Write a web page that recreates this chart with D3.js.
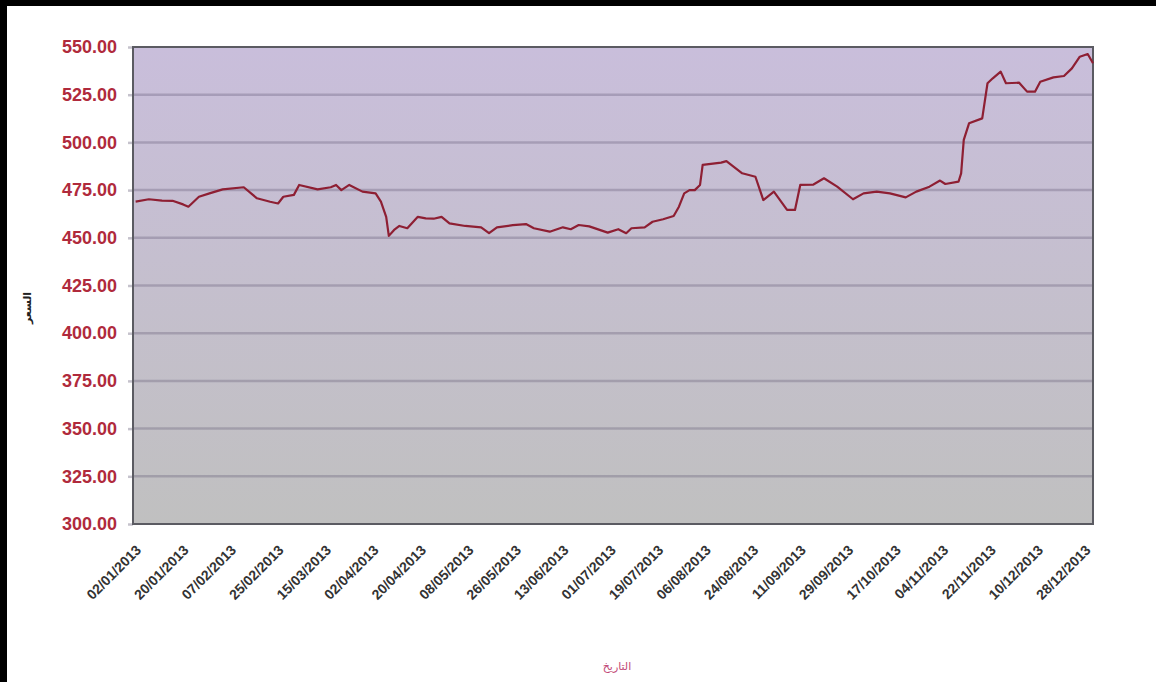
<!DOCTYPE html>
<html>
<head>
<meta charset="utf-8">
<script src="https://cdn.jsdelivr.net/npm/d3@7"></script>
<style>
  html, body { margin: 0; padding: 0; background: #000; }
  svg { display: block; }
</style>
</head>
<body>
<svg width="1156" height="682"></svg>
<script>
const dates = [
  '02/01/2013', '07/01/2013', '12/01/2013', '16/01/2013', '20/01/2013', '22/01/2013', '26/01/2013', '30/01/2013',
  '04/02/2013', '12/02/2013', '17/02/2013', '22/02/2013', '25/02/2013', '27/02/2013',
  '03/03/2013', '05/03/2013', '12/03/2013', '17/03/2013', '19/03/2013', '21/03/2013', '24/03/2013', '29/03/2013',
  '03/04/2013', '05/04/2013', '07/04/2013', '08/04/2013', '10/04/2013', '12/04/2013', '15/04/2013', '19/04/2013',
  '22/04/2013', '25/04/2013', '28/04/2013', '01/05/2013', '07/05/2013', '13/05/2013', '16/05/2013', '19/05/2013',
  '25/05/2013', '30/05/2013', '02/06/2013', '08/06/2013', '13/06/2013', '16/06/2013', '19/06/2013', '23/06/2013',
  '30/06/2013', '04/07/2013', '07/07/2013', '09/07/2013', '14/07/2013', '17/07/2013', '21/07/2013', '25/07/2013',
  '27/07/2013', '29/07/2013', '31/07/2013', '02/08/2013', '04/08/2013', '05/08/2013', '12/08/2013', '14/08/2013',
  '20/08/2013', '25/08/2013', '28/08/2013', '01/09/2013', '06/09/2013', '09/09/2013', '11/09/2013', '16/09/2013',
  '20/09/2013', '25/09/2013', '01/10/2013', '05/10/2013', '10/10/2013', '15/10/2013', '21/10/2013', '25/10/2013',
  '30/10/2013', '03/11/2013', '05/11/2013', '10/11/2013', '11/11/2013', '12/11/2013', '14/11/2013', '19/11/2013',
  '21/11/2013', '23/11/2013', '26/11/2013', '28/11/2013', '03/12/2013', '06/12/2013', '09/12/2013', '11/12/2013',
  '16/12/2013', '20/12/2013', '23/12/2013', '26/12/2013', '29/12/2013', '31/12/2013'
]

const prices = [
  469.0, 470.2, 469.5, 469.4, 467.5, 466.3, 471.5, 473.3,
  475.4, 476.5, 470.7, 468.9, 468.0, 471.5,
  472.5, 477.7, 475.4, 476.5, 477.7, 475.0, 477.7, 474.2,
  473.3, 469.0, 461.0, 451.0, 454.1, 456.2, 455.0, 461.0,
  460.2, 460.0, 461.0, 457.6, 456.2, 455.5, 452.4, 455.5,
  456.6, 457.2, 455.0, 453.2, 455.5, 454.5, 456.7, 456.0,
  452.7, 454.5, 452.4, 455.0, 455.5, 458.4, 459.7, 461.4,
  466.3, 473.3, 475.0, 475.0, 477.7, 488.2, 489.4, 490.2,
  483.8, 482.0, 469.8, 474.2, 464.6, 464.6, 477.7, 477.9,
  481.2, 476.8, 470.2, 473.3, 474.2, 473.3, 471.2, 474.2,
  476.8, 480.0, 478.2, 479.4, 483.8, 501.3, 510.0, 512.6,
  531.0, 533.6, 537.1, 531.0, 531.3, 526.6, 526.6, 531.8,
  534.1, 534.8, 538.8, 544.9, 546.3, 541.5
]

const xTickLabels = [
  '02/01/2013', '20/01/2013', '07/02/2013', '25/02/2013', '15/03/2013', '02/04/2013', '20/04/2013',
  '08/05/2013', '26/05/2013', '13/06/2013', '01/07/2013', '19/07/2013', '06/08/2013', '24/08/2013',
  '11/09/2013', '29/09/2013', '17/10/2013', '04/11/2013', '22/11/2013', '10/12/2013', '28/12/2013'
]

const yTicks = [300, 325, 350, 375, 400, 425, 450, 475, 500, 525, 550]

const xDomain = ['01/01/2013', '31/12/2013']
const yTitle = 'السعر'
const xTitle = 'التاريخ'

const parseDate = d3.timeParse('%d/%m/%Y')
const formatDate = d3.timeFormat('%d/%m/%Y')

const svg = d3.select('svg')
const plot = { left: 133, top: 47, right: 1093, bottom: 524 }

// white page inside the black frame
svg.append('rect')
  .attr('x', 7).attr('y', 6)
  .attr('width', 1156 - 7).attr('height', 682 - 6)
  .attr('fill', '#fff')

const xScale = d3.scaleTime()
  .domain(xDomain.map(parseDate))
  .range([plot.left, plot.right])

const yScale = d3.scaleLinear()
  .domain([300, 550])
  .range([plot.bottom, plot.top])

const grad = svg.append('defs').append('linearGradient')
  .attr('id', 'bg').attr('x1', 0).attr('y1', 0).attr('x2', 0).attr('y2', 1)
grad.append('stop').attr('offset', '0%').attr('stop-color', '#c9bedb')
grad.append('stop').attr('offset', '100%').attr('stop-color', '#c0c0c0')

svg.append('rect')
  .attr('x', plot.left).attr('y', plot.top)
  .attr('width', plot.right - plot.left).attr('height', plot.bottom - plot.top)
  .attr('fill', 'url(#bg)')

// grid lines
svg.append('g')
  .selectAll('line')
  .data(yTicks.slice(1, -1))
  .join('line')
    .attr('x1', plot.left).attr('x2', plot.right)
    .attr('y1', (d) => yScale(d)).attr('y2', (d) => yScale(d))
    .attr('stroke', 'rgba(90,80,110,0.3)')
    .attr('stroke-width', 2.5)

// y axis
const yAxis = svg.append('g')
  .attr('transform', 'translate(' + plot.left + ',0)')
  .call(d3.axisLeft(yScale)
    .tickValues(yTicks)
    .tickFormat(d3.format('.2f'))
    .tickSize(5)
    .tickPadding(11))
yAxis.select('.domain').remove()
yAxis.selectAll('line').attr('stroke', 'rgba(90,80,110,0.35)').attr('stroke-width', 2.5)
yAxis.selectAll('text')
  .attr('fill', '#b02a3c')
  .style('font', 'bold 18px "Liberation Sans", Arial, sans-serif')

// x axis
const xAxis = svg.append('g')
  .attr('transform', 'translate(0,' + plot.bottom + ')')
  .call(d3.axisBottom(xScale)
    .tickValues(xTickLabels.map(parseDate))
    .tickFormat(formatDate)
    .tickSize(0))
xAxis.select('.domain').remove()
xAxis.selectAll('text')
  .attr('x', 0).attr('y', 0).attr('dy', 0)
  .attr('text-anchor', 'end')
  .attr('transform', 'translate(6,27) rotate(-45)')
  .attr('fill', '#333')
  .style('font', 'bold 14px "Liberation Sans", Arial, sans-serif')

// frame of the plot
svg.append('rect')
  .attr('x', plot.left).attr('y', plot.top)
  .attr('width', plot.right - plot.left).attr('height', plot.bottom - plot.top)
  .attr('fill', 'none')
  .attr('stroke', '#5b5b62')
  .attr('stroke-width', 2)

// price line
const data = dates.map((d, i) => ({ date: parseDate(d), price: prices[i] }))
const line = d3.line()
  .x((d) => xScale(d.date))
  .y((d) => yScale(d.price))

svg.append('path')
  .datum(data)
  .attr('d', line)
  .attr('fill', 'none')
  .attr('stroke', '#8e1f33')
  .attr('stroke-width', 2.2)
  .attr('stroke-linejoin', 'round')

// titles
svg.append('text')
  .attr('transform', 'translate(31,308) rotate(-90)')
  .attr('text-anchor', 'middle')
  .attr('fill', '#222')
  .style('font', 'bold 11px "DejaVu Sans", sans-serif')
  .text(yTitle)

svg.append('text')
  .attr('x', 617).attr('y', 670)
  .attr('text-anchor', 'middle')
  .attr('fill', '#c24a78')
  .style('font', '11px "DejaVu Sans", sans-serif')
  .text(xTitle)
</script>
</body>
</html>
